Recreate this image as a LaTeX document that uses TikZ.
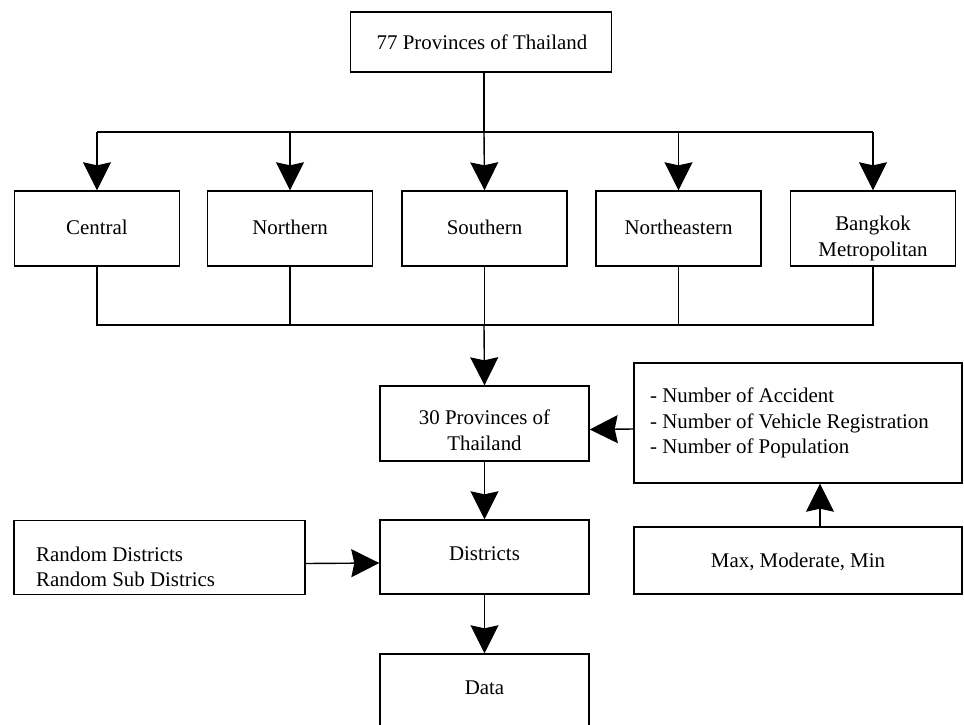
\documentclass[tikz,border=0pt]{standalone}
\usepackage{fontspec}
\setmainfont{Liberation Serif}
\usetikzlibrary{arrows.meta,calc}
\begin{document}
\begin{tikzpicture}[x=1pt,y=-1pt,
  box/.style={draw,line width=1.4pt,inner sep=0pt},
  txt/.style={font=\fontsize{20.9}{25.5}\selectfont,inner sep=0pt,align=center},
  conn/.style={line width=1.4pt},
  arr/.style={line width=1.4pt,-{Stealth[length=28pt,width=28pt,inset=3pt]}}]
\useasboundingbox (0,0) rectangle (964,725);
\begin{scope}
\clip (0,0) rectangle (964,725);
% boxes
\node[box,minimum width=261pt,minimum height=60pt] (top) at (481,42) {};
\node[box,minimum width=165pt,minimum height=75pt] (central) at (97,228.5) {};
\node[box,minimum width=165pt,minimum height=75pt] (north) at (290,228.5) {};
\node[box,minimum width=165pt,minimum height=75pt] (south) at (484.5,228.5) {};
\node[box,minimum width=165pt,minimum height=75pt] (neast) at (678.5,228.5) {};
\node[box,minimum width=165pt,minimum height=75pt] (bkk) at (873,228.5) {};
\node[box,minimum width=209pt,minimum height=75pt] (p30) at (484.5,423.5) {};
\node[box,minimum width=328pt,minimum height=120pt] (crit) at (798,423) {};
\node[box,minimum width=328pt,minimum height=67pt] (mmm) at (798,560.5) {};
\node[box,minimum width=209pt,minimum height=74pt] (dist) at (484.5,557) {};
\node[box,minimum width=291pt,minimum height=74pt] (rand) at (159.5,557.5) {};
\node[box,minimum width=209pt,minimum height=75pt] (data) at (484.5,691.5) {};
\end{scope}
% texts
\node[txt] (ttop) at (482,42) {77 Provinces of Thailand};
\node[txt] (tcen) at (97,227) {Central};
\node[txt] (tnor) at (290,227) {Northern};
\node[txt] (tsou) at (484.5,227) {Southern};
\node[txt] (tne) at (678.5,227) {Northeastern};
\node[txt,anchor=north] (tbkk) at (873,216) {Bangkok\\Metropolitan};
\node[txt,anchor=north] (tp30) at (484.5,410) {30 Provinces of\\Thailand};
\node[txt,align=left,anchor=west] (tcrit) at (650,423) {- Number of Accident\\- Number of Vehicle Registration\\- Number of Population};
\node[txt] (tmmm) at (798,562) {Max, Moderate, Min};
\node[txt] (tdist) at (484.5,554) {Districts};
\node[txt,align=left,anchor=west] (trand) at (36,567) {Random Districts\\Random Sub Districs};
\node[txt] (tdata) at (484.5,688) {Data};
% bus coordinates
\coordinate (busT) at (484,132);
\coordinate (busB) at (484,325);
% top connectors
\draw[conn] ([xshift=3pt]top.south) -- ([xshift=3pt]top.south |- busT);
\draw[conn] (central.north |- busT) -- (bkk.north |- busT);
\draw[arr] (central.north |- busT) -- (central.north);
\draw[arr] (north.north |- busT) -- (north.north);
\draw[arr] (busT) -- (south.north);
\draw[arr] (neast.north |- busT) -- (neast.north);
\draw[arr] (bkk.north |- busT) -- (bkk.north);
% bottom bus
\draw[conn] (central.south) -- (central.south |- busB) -- (bkk.south |- busB) -- (bkk.south);
\draw[conn] (north.south) -- (north.south |- busB);
\draw[conn] (south.south) -- (south.south |- busB);
\draw[conn] (neast.south) -- (neast.south |- busB);
\draw[arr] (busB) -- (p30.north);
% lower connectors
\draw[arr] ([yshift=-6pt]crit.west) -- ([yshift=-6pt]p30.east);
\draw[arr] ([xshift=22pt]mmm.north) -- ([xshift=22pt]crit.south);
\draw[arr] (p30.south) -- (dist.north);
\draw[arr] ([yshift=-6pt]rand.east) -- ([yshift=-6pt]dist.west);
\draw[arr] (dist.south) -- (data.north);
\end{tikzpicture}
\end{document}
